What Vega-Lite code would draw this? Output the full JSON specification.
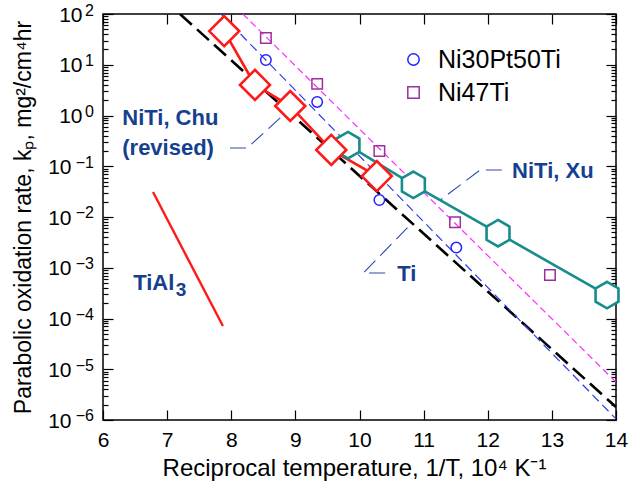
{
  "$schema": "https://vega.github.io/schema/vega-lite/v6.json",
  "width": 513,
  "height": 406,
  "autosize": {"type": "none"},
  "padding": {"left": 103, "top": 14, "right": 20, "bottom": 66},
  "background": "white",
  "config": {
    "view": {"stroke": "black", "strokeWidth": 1.5},
    "font": "Liberation Sans",
    "axis": {
      "domain": false,
      "grid": false,
      "tickColor": "black",
      "tickWidth": 1.2,
      "labelColor": "black",
      "titleColor": "black",
      "labelFont": "Liberation Sans",
      "titleFont": "Liberation Sans",
      "titleFontWeight": "normal",
      "labelOverlap": false,
      "labelFlush": false
    }
  },
  "datasets": {
    "fits": [
      {"line": "Ti", "T": 7.2, "kp": 100},
      {"line": "Ti", "T": 14, "kp": 1.8e-6},
      {"line": "Ni30Pt50Ti", "T": 7.84, "kp": 100},
      {"line": "Ni30Pt50Ti", "T": 14, "kp": 1.05e-6},
      {"line": "Ni47Ti", "T": 8.18, "kp": 100},
      {"line": "Ni47Ti", "T": 14, "kp": 5.6e-6}
    ],
    "tial3": [
      {"T": 6.78, "kp": 0.031},
      {"T": 7.87, "kp": 7.1e-5}
    ],
    "chu": [
      {"T": 7.89, "kp": 46},
      {"T": 8.37, "kp": 4.0},
      {"T": 8.92, "kp": 1.54},
      {"T": 9.56, "kp": 0.21},
      {"T": 10.27, "kp": 0.064}
    ],
    "xu": [
      {"T": 9.82, "kp": 0.26},
      {"T": 10.84, "kp": 0.043},
      {"T": 12.16, "kp": 0.0048},
      {"T": 13.86, "kp": 0.00029}
    ],
    "pts": [
      {"alloy": "Ni30Pt50Ti", "T": 8.54, "kp": 12.4},
      {"alloy": "Ni30Pt50Ti", "T": 9.34, "kp": 1.85},
      {"alloy": "Ni30Pt50Ti", "T": 10.31, "kp": 0.0216},
      {"alloy": "Ni30Pt50Ti", "T": 11.51, "kp": 0.0025},
      {"alloy": "Ni47Ti", "T": 8.54, "kp": 33.7},
      {"alloy": "Ni47Ti", "T": 9.34, "kp": 4.2},
      {"alloy": "Ni47Ti", "T": 10.31, "kp": 0.2},
      {"alloy": "Ni47Ti", "T": 11.49, "kp": 0.0079},
      {"alloy": "Ni47Ti", "T": 12.97, "kp": 0.00072}
    ],
    "leaders": [
      {"id": "chu", "ord": 1, "T": 7.98, "kp": 0.229},
      {"id": "chu", "ord": 2, "T": 8.25, "kp": 0.229},
      {"id": "chu", "ord": 3, "T": 8.81, "kp": 1.02},
      {"id": "xu", "ord": 1, "T": 12.22, "kp": 0.0843},
      {"id": "xu", "ord": 2, "T": 11.88, "kp": 0.0843},
      {"id": "xu", "ord": 3, "T": 11.26, "kp": 0.0216},
      {"id": "ti", "ord": 1, "T": 10.4, "kp": 0.00079},
      {"id": "ti", "ord": 2, "T": 10.06, "kp": 0.00079},
      {"id": "ti", "ord": 3, "T": 10.79, "kp": 0.00695}
    ],
    "labels": [
      {"label": "NiTi, Chu", "T": 6.3, "kp": 0.893},
      {"label": "(revised)", "T": 6.3, "kp": 0.229},
      {"label": "NiTi, Xu", "T": 12.38, "kp": 0.0805},
      {"label": "Ti", "T": 10.59, "kp": 0.00075},
      {"label": "TiAl", "T": 6.47, "kp": 0.00049}
    ],
    "subs": [
      {"label": "3", "T": 7.135, "kp": 0.00036}
    ]
  },
  "encoding": {
    "x": {"field": "T", "type": "quantitative", "scale": {"domain": [6, 14], "nice": false, "zero": false}, "axis": null},
    "y": {"field": "kp", "type": "quantitative", "scale": {"type": "log", "domain": [1e-6, 100], "nice": false}, "axis": null}
  },
  "layer": [
    {
      "data": {"name": "fits"},
      "transform": [{"filter": "datum.line == 'Ti'"}],
      "mark": {"type": "line", "color": "black", "strokeWidth": 2.6, "strokeDash": [16, 7], "clip": true},
      "encoding": {
        "x": {
          "field": "T", "type": "quantitative",
          "scale": {"domain": [6, 14], "nice": false, "zero": false},
          "axis": {
            "orient": "bottom",
            "values": [6, 7, 8, 9, 10, 11, 12, 13, 14],
            "tickSize": -10,
            "labelFontSize": 21,
            "labelPadding": 19,
            "title": "Reciprocal temperature, 1/T, 10⁴ K⁻¹",
            "titleFontSize": 24,
            "titleX": 251,
            "titleY": 48,
            "titleAlign": "center",
            "titleBaseline": "middle"
          }
        },
        "y": {
          "field": "kp", "type": "quantitative",
          "scale": {"type": "log", "domain": [1e-6, 100], "nice": false},
          "axis": {
            "orient": "left",
            "values": [100, 10, 1, 0.1, 0.01, 0.001, 0.0001, 0.00001, 0.000001,
              99.99, 10.001, 1.0001, 0.10001, 0.010001, 0.0010001, 0.00010001, 0.000010001, 0.0000010001,
              2e-6, 3e-6, 4e-6, 5e-6, 6e-6, 7e-6, 8e-6, 9e-6,
              2e-5, 3e-5, 4e-5, 5e-5, 6e-5, 7e-5, 8e-5, 9e-5,
              2e-4, 3e-4, 4e-4, 5e-4, 6e-4, 7e-4, 8e-4, 9e-4,
              2e-3, 3e-3, 4e-3, 5e-3, 6e-3, 7e-3, 8e-3, 9e-3,
              2e-2, 3e-2, 4e-2, 5e-2, 6e-2, 7e-2, 8e-2, 9e-2,
              0.2, 0.3, 0.4, 0.5, 0.6, 0.7, 0.8, 0.9,
              2, 3, 4, 5, 6, 7, 8, 9,
              20, 30, 40, 50, 60, 70, 80, 90],
            "tickSize": {"condition": [
              {"test": "abs(log(datum.value)/LN10 - round(log(datum.value)/LN10)) < 1e-6", "value": -10},
              {"test": "abs(log(datum.value)/LN10 - round(log(datum.value)/LN10)) < 1e-3", "value": 0}
            ], "value": -5},
            "labelExpr": "abs(log(datum.value)/LN10 - round(log(datum.value)/LN10)) < 1e-6 ? '10' : abs(log(datum.value)/LN10 - round(log(datum.value)/LN10)) < 1e-3 ? format(round(log(datum.value)/LN10), 'd') : ''",
            "labelFontSize": {"condition": {"test": "abs(log(datum.value)/LN10 - round(log(datum.value)/LN10)) >= 1e-6", "value": 16}, "value": 21},
            "labelPadding": {"condition": [
              {"test": "abs(log(datum.value)/LN10 - round(log(datum.value)/LN10)) < 1e-6 && datum.value >= 0.9", "value": 31},
              {"test": "abs(log(datum.value)/LN10 - round(log(datum.value)/LN10)) < 1e-6", "value": 42}
            ], "value": 9.5},
            "labelOffset": {"condition": {"test": "abs(log(datum.value)/LN10 - round(log(datum.value)/LN10)) >= 1e-6", "value": -4}, "value": 1},
            "labelAlign": "right",
            "labelBaseline": "middle",
            "title": "Parabolic oxidation rate, kₚ, mg²/cm⁴hr",
            "titleFontSize": 23,
            "titleX": -80,
            "titleY": 203,
            "titleAngle": -90,
            "titleAlign": "center",
            "titleBaseline": "middle"
          }
        }
      }
    },
    {
      "data": {"name": "fits"},
      "transform": [{"filter": "datum.line == 'Ni30Pt50Ti'"}],
      "mark": {"type": "line", "color": "#2d3cf0", "strokeWidth": 1.2, "strokeDash": [9, 5], "clip": true},
      "encoding": {
        "x": {
          "field": "T", "type": "quantitative",
          "scale": {"domain": [6, 14], "nice": false, "zero": false},
          "axis": {
            "orient": "top",
            "values": [6, 7, 8, 9, 10, 11, 12, 13, 14],
            "tickSize": -10,
            "labels": false,
            "title": null
          }
        },
        "y": {
          "field": "kp", "type": "quantitative",
          "scale": {"type": "log", "domain": [1e-6, 100], "nice": false},
          "axis": {
            "orient": "right",
            "values": [100, 10, 1, 0.1, 0.01, 0.001, 0.0001, 0.00001, 0.000001,
              2e-6, 3e-6, 4e-6, 5e-6, 6e-6, 7e-6, 8e-6, 9e-6,
              2e-5, 3e-5, 4e-5, 5e-5, 6e-5, 7e-5, 8e-5, 9e-5,
              2e-4, 3e-4, 4e-4, 5e-4, 6e-4, 7e-4, 8e-4, 9e-4,
              2e-3, 3e-3, 4e-3, 5e-3, 6e-3, 7e-3, 8e-3, 9e-3,
              2e-2, 3e-2, 4e-2, 5e-2, 6e-2, 7e-2, 8e-2, 9e-2,
              0.2, 0.3, 0.4, 0.5, 0.6, 0.7, 0.8, 0.9,
              2, 3, 4, 5, 6, 7, 8, 9,
              20, 30, 40, 50, 60, 70, 80, 90],
            "tickSize": {"condition": {"test": "abs(log(datum.value)/LN10 - round(log(datum.value)/LN10)) < 1e-6", "value": -10}, "value": -5},
            "labels": false,
            "title": null
          }
        }
      }
    },
    {
      "data": {"name": "fits"},
      "transform": [{"filter": "datum.line == 'Ni47Ti'"}],
      "mark": {"type": "line", "color": "#ff2bff", "strokeWidth": 1.2, "strokeDash": [7, 4], "clip": true}
    },
    {
      "data": {"name": "tial3"},
      "mark": {"type": "line", "color": "#ff1a1a", "strokeWidth": 2.4}
    },
    {
      "data": {"name": "leaders"},
      "mark": {"type": "line", "color": "#2a4aa8", "strokeWidth": 1.1, "strokeDash": [16, 7]},
      "encoding": {
        "detail": {"field": "id", "type": "nominal"},
        "order": {"field": "ord", "type": "quantitative"}
      }
    },
    {
      "data": {"name": "xu"},
      "mark": {"type": "line", "color": "#178c8c", "strokeWidth": 2.6}
    },
    {
      "data": {"name": "chu"},
      "mark": {"type": "line", "color": "#ff1a1a", "strokeWidth": 2.6}
    },
    {
      "data": {"name": "xu"},
      "mark": {"type": "point", "shape": "M0,-1L0.866,-0.5L0.866,0.5L0,1L-0.866,0.5L-0.866,-0.5Z", "size": 700, "filled": true, "fill": "white", "stroke": "#178c8c", "strokeWidth": 2.6, "opacity": 1}
    },
    {
      "data": {"name": "chu"},
      "mark": {"type": "point", "shape": "diamond", "size": 900, "filled": true, "fill": "white", "stroke": "#ff1a1a", "strokeWidth": 2.6, "opacity": 1}
    },
    {
      "data": {"name": "pts"},
      "mark": {"type": "point", "filled": false, "size": 110, "strokeWidth": 1.5, "opacity": 1},
      "encoding": {
        "shape": {
          "field": "alloy", "type": "nominal",
          "scale": {"domain": ["Ni30Pt50Ti", "Ni47Ti"], "range": ["circle", "square"]},
          "legend": {"title": null, "orient": "none", "legendX": 298, "legendY": 33, "labelFontSize": 25, "labelFont": "Liberation Sans", "labelColor": "black", "symbolSize": 130, "symbolStrokeWidth": 1.5, "rowPadding": 7, "labelOffset": 12, "padding": 0}
        },
        "color": {
          "field": "alloy", "type": "nominal",
          "scale": {"domain": ["Ni30Pt50Ti", "Ni47Ti"], "range": ["#2424ff", "#9b2f9b"]},
          "legend": {"title": null, "orient": "none", "legendX": 298, "legendY": 33, "labelFontSize": 25, "labelFont": "Liberation Sans", "labelColor": "black", "symbolSize": 130, "symbolStrokeWidth": 1.5, "rowPadding": 7, "labelOffset": 12, "padding": 0}
        }
      }
    },
    {
      "data": {"name": "labels"},
      "mark": {"type": "text", "align": "left", "baseline": "middle", "fontWeight": "bold", "fontSize": 22, "font": "Liberation Sans", "color": "#15408f"},
      "encoding": {
        "text": {"field": "label", "type": "nominal"}
      }
    },
    {
      "data": {"name": "subs"},
      "mark": {"type": "text", "align": "left", "baseline": "middle", "fontWeight": "bold", "fontSize": 19, "font": "Liberation Sans", "color": "#15408f"},
      "encoding": {
        "text": {"field": "label", "type": "nominal"}
      }
    }
  ],
  "resolve": {"axis": {"x": "independent", "y": "independent"}}
}
